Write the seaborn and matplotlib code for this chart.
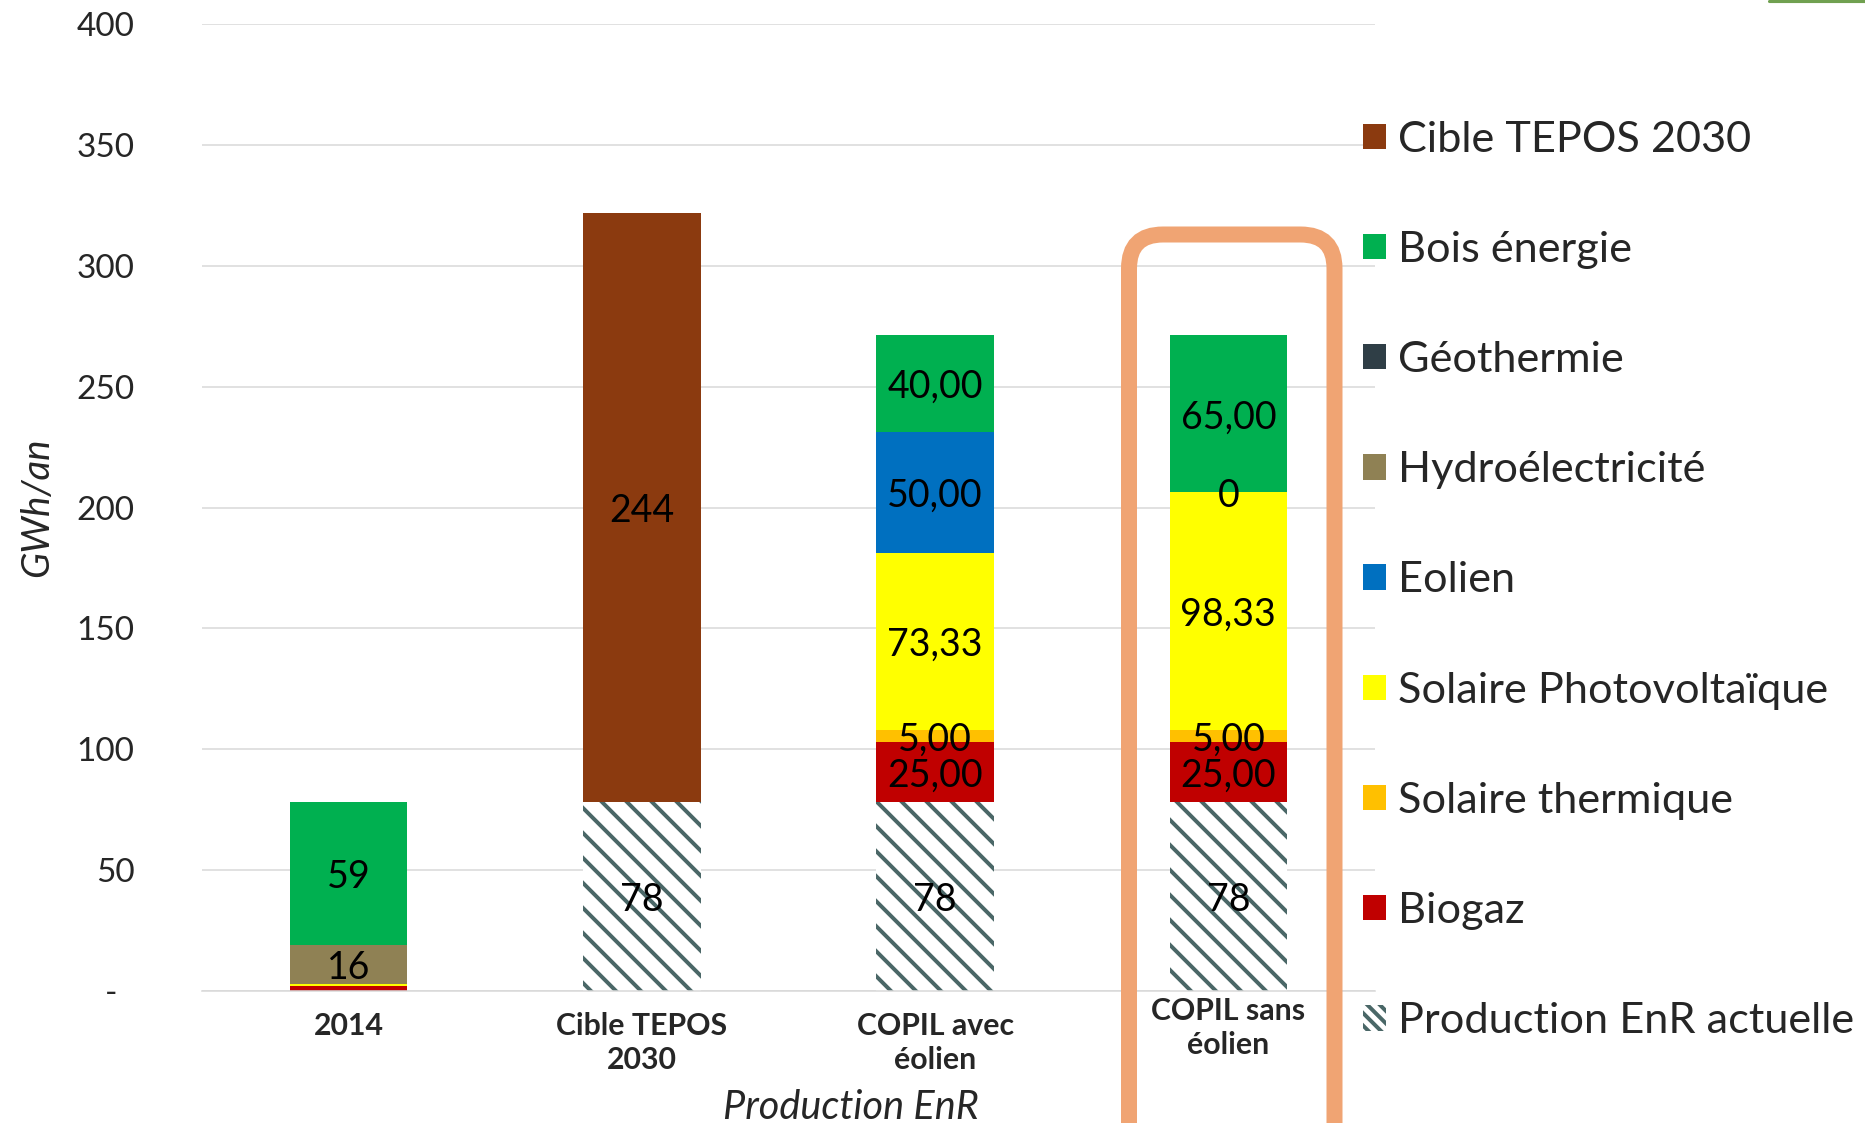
import matplotlib
matplotlib.use("Agg")
import matplotlib.pyplot as plt
import matplotlib.transforms as mtransforms
from matplotlib.patches import Patch, FancyBboxPatch
from matplotlib.lines import Line2D
import seaborn as sns
import numpy as np
import pandas as pd

# données (GWh/an) - NaN = cellule vide, pas d'étiquette
categories = ["2014", "Cible TEPOS\n2030", "COPIL avec\néolien", "COPIL sans\néolien"]
actuelle = [np.nan, 78, 78, 78]
biogaz = [2.2, np.nan, 25, 25]
solaire_thermique = [np.nan, np.nan, 5, 5]
solaire_pv = [0.8, np.nan, 73.33, 98.33]
eolien = [np.nan, np.nan, 50, 0]
hydro = [16, np.nan, np.nan, np.nan]
geothermie = [np.nan, np.nan, np.nan, np.nan]
bois = [59, np.nan, 40, 65]
cible_tepos = [np.nan, 244, np.nan, np.nan]

# ordre d'empilement, du bas vers le haut
series = [
    ("Production EnR actuelle", actuelle, "white"),
    ("Biogaz", biogaz, "#C00000"),
    ("Solaire thermique", solaire_thermique, "#FFC000"),
    ("Solaire Photovoltaïque", solaire_pv, "#FFFF00"),
    ("Eolien", eolien, "#0070C0"),
    ("Hydroélectricité", hydro, "#8F8154"),
    ("Géothermie", geothermie, "#2F3E46"),
    ("Bois énergie", bois, "#00B050"),
    ("Cible TEPOS 2030", cible_tepos, "#8B3A0F"),
]
HATCH_COLOR = "#4A6767"

DPI = 75
sns.set_style("white")
plt.rcParams["font.family"] = ["Lato", "DejaVu Sans"]
plt.rcParams["hatch.linewidth"] = 3.8

fig = plt.figure(figsize=(1865 / DPI, 1123 / DPI), dpi=DPI)
ax = fig.add_axes([202 / 1865, 0.1175, 1173 / 1865, 0.8611])

df = pd.DataFrame({name: vals for name, vals, _ in series}, index=categories).fillna(0)
cum = df.cumsum(axis=1)

# barres empilées : on trace les cumuls du haut vers le bas
for name, vals, color in reversed(series):
    sns.barplot(x=categories, y=cum[name].values, color=color, width=0.4,
                saturation=1, errorbar=None, linewidth=0, ax=ax)
    if name == "Production EnR actuelle":
        for p in ax.containers[-1]:
            p.set_facecolor("white")
            p.set_edgecolor(HATCH_COLOR)
            p.set_hatch("\\")
            p.set_linewidth(0)

# étiquettes de données
def fmt(v, cat, name):
    if cat.startswith("COPIL") and name != "Production EnR actuelle":
        return "0" if v == 0 else f"{v:.2f}".replace(".", ",")
    return f"{v:.0f}"

for name, vals, color in series:
    bottoms = cum[name].values - df[name].values
    for i, (cat, v) in enumerate(zip(categories, vals)):
        if np.isnan(v) or (0 < v < 5):
            continue
        ax.annotate(fmt(v, cat, name), (i, bottoms[i] + v / 2), xytext=(0, -3.5),
                    textcoords="offset points", ha="center", va="center",
                    fontsize=36, color="black")

ax.set_ylim(0, 400)
ax.set_xlim(-0.5, 3.5)
ax.set_yticks(np.arange(0, 401, 50))
ax.set_yticklabels(["-  "] + [str(v) for v in range(50, 401, 50)])
ax.yaxis.grid(True, color="#D9D9D9", linewidth=1.5)
ax.set_axisbelow(True)
for s in ["top", "right", "left"]:
    ax.spines[s].set_visible(False)
ax.spines["bottom"].set_color("#D9D9D9")
ax.spines["bottom"].set_linewidth(1.5)
ax.tick_params(axis="y", length=0, pad=65, labelsize=32)
ax.tick_params(axis="x", length=0, pad=20, labelsize=29)
for lab in ax.get_xticklabels():
    lab.set_fontweight("bold")
    lab.set_va("top")
    lab.set_linespacing(1.25)

ax.set_ylabel("GWh/an", fontsize=37, style="italic")
ax.yaxis.set_label_coords(-0.1407, 0.5)
ax.yaxis.label.set_va("center")
ax.set_xlabel("Production EnR", fontsize=38, style="italic")
ax.xaxis.set_label_coords(0.553, -0.12)
ax.xaxis.label.set_va("center")

# légende
handles = []
for name, vals, color in reversed(series):
    if name == "Production EnR actuelle":
        handles.append(Patch(facecolor="white", edgecolor=HATCH_COLOR, hatch="\\\\", linewidth=0, label=name))
    else:
        handles.append(Patch(facecolor=color, linewidth=0, label=name))
fig.legend(handles=handles, loc="upper left", bbox_to_anchor=(1363 / 1865, 0.8926),
           frameon=False, fontsize=41.5, handlelength=0.53, handleheight=0.53,
           handletextpad=0.28, labelspacing=1.67, borderpad=0, borderaxespad=0)

# cadre arrondi autour de "COPIL sans éolien"
box = FancyBboxPatch((1129, -40), 205.5, 1123 - 234.5 + 40,
                     boxstyle="round,pad=0,rounding_size=34",
                     transform=mtransforms.IdentityTransform(),
                     facecolor="none", edgecolor="#F0A473", linewidth=16 * 72 / DPI)
fig.add_artist(box)
fig.add_artist(Line2D([1769 / 1865, 1], [0.999, 0.999], color="#70A050",
                      linewidth=3, transform=fig.transFigure))

# petit décalage du libellé placé dans le cadre
lab = ax.get_xticklabels()[3]
lab.set_transform(lab.get_transform() + mtransforms.ScaledTranslation(0, 15 / DPI, fig.dpi_scale_trans))

fig.savefig("out.png", dpi=DPI)
